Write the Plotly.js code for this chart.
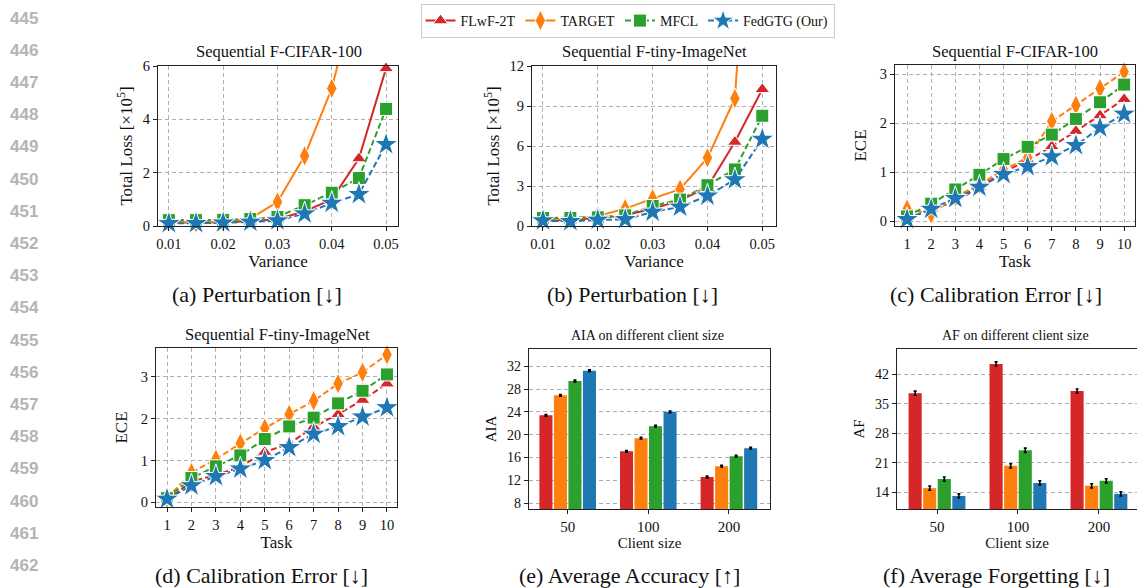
<!DOCTYPE html>
<html>
<head>
<meta charset="utf-8">
<script src="https://cdn.plot.ly/plotly-3.0.1.min.js"></script>
<style>html,body{margin:0;padding:0;background:#fff;}#chart{width:1137px;height:588px;}</style>
</head>
<body>
<div id="chart"></div>
<script>
// ---------- data ----------
const seriesNames = ['FLwF-2T', 'TARGET', 'MFCL', 'FedGTG (Our)'];
const variance = [0.01, 0.015, 0.02, 0.025, 0.03, 0.035, 0.04, 0.045, 0.05];
const tasks = [1, 2, 3, 4, 5, 6, 7, 8, 9, 10];
const clientSizes = ['50', '100', '200'];

// (a) Perturbation, Sequential F-CIFAR-100 (Total Loss x1e5)
const aFLwF   = [0.15, 0.12, 0.15, 0.18, 0.25, 0.55, 1.00, 2.53, 5.91];
const aTARGET = [0.15, 0.12, 0.15, 0.28, 0.90, 2.63, 5.16, 9.20, 16.0];
const aMFCL   = [0.22, 0.22, 0.23, 0.26, 0.34, 0.78, 1.25, 1.80, 4.39];
const aFedGTG = [0.10, 0.10, 0.12, 0.15, 0.20, 0.46, 0.86, 1.19, 3.06];

// (b) Perturbation, Sequential F-tiny-ImageNet
const bFLwF   = [0.40, 0.45, 0.60, 0.80, 1.30, 1.90, 2.93, 6.30, 10.25];
const bTARGET = [0.50, 0.55, 0.75, 1.30, 2.05, 2.76, 5.11, 9.57, 40.0];
const bMFCL   = [0.60, 0.60, 0.65, 0.80, 1.50, 1.98, 3.06, 4.24, 8.27];
const bFedGTG = [0.40, 0.35, 0.45, 0.50, 1.05, 1.43, 2.26, 3.48, 6.52];

// (c) Calibration Error, Sequential F-CIFAR-100 (ECE)
const cFLwF   = [0.05, 0.25, 0.40, 0.70, 1.00, 1.25, 1.53, 1.84, 2.16, 2.49];
const cTARGET = [0.25, 0.15, 0.50, 0.75, 1.05, 1.30, 2.04, 2.37, 2.71, 3.05];
const cMFCL   = [0.10, 0.36, 0.65, 0.95, 1.27, 1.52, 1.77, 2.09, 2.43, 2.79];
const cFedGTG = [0.04, 0.25, 0.47, 0.70, 0.96, 1.12, 1.32, 1.55, 1.91, 2.19];

// (d) Calibration Error, Sequential F-tiny-ImageNet (ECE)
const dFLwF   = [0.05, 0.50, 0.65, 0.85, 1.20, 1.40, 1.80, 2.10, 2.44, 2.83];
const dTARGET = [0.10, 0.71, 1.03, 1.41, 1.77, 2.10, 2.42, 2.83, 3.10, 3.52];
const dMFCL   = [0.10, 0.58, 0.86, 1.12, 1.51, 1.81, 2.02, 2.36, 2.66, 3.05];
const dFedGTG = [0.08, 0.40, 0.62, 0.80, 1.00, 1.31, 1.63, 1.81, 2.04, 2.26];

// (e) AIA on different client size
const eFLwF   = [23.4, 17.1, 12.6];
const eTARGET = [26.9, 19.4, 14.5];
const eMFCL   = [29.4, 21.5, 16.25];
const eFedGTG = [31.2, 24.0, 17.65];
const eErr    = [0.15, 0.15, 0.15];

// (f) AF on different client size
const fFLwF   = [37.5, 44.45, 38.0];
const fTARGET = [14.95, 20.25, 15.5];
const fMFCL   = [17.1, 23.96, 16.7];
const fFedGTG = [13.1, 16.2, 13.6];
const fErr    = [0.5, 0.5, 0.5];

const lineNumbers = ['445','446','447','448','449','450','451','452','453','454','455','456','457','458','459','460','461','462','463'];

// ---------- styles ----------
const colors = ['#d62728', '#ff7f0e', '#2ca02c', '#1f77b4'];
const symbols = ['triangle-up', 'diamond-tall', 'square', 'star'];
const msizes = [13, 15, 13, 18];
const SERIF = 'Liberation Serif, Times New Roman, serif';
const W = 1137, H = 588;
const px = v => v / W;
const py = v => 1 - v / H;

const traces = [];
function addLines(xs, ys, idx, dashes, showLegend) {
  const ax = idx === 1 ? '' : String(idx);
  ys.forEach((y, i) => {
    traces.push({
      type: 'scatter', mode: 'lines+markers', x: xs, y: y,
      name: seriesNames[i], legendgroup: seriesNames[i], showlegend: showLegend,
      xaxis: 'x' + ax, yaxis: 'y' + ax, cliponaxis: false,
      line: {color: colors[i], width: 2, dash: dashes[i]},
      marker: {symbol: symbols[i], size: msizes[i], color: colors[i], line: {color: '#ffffff', width: 1}}
    });
  });
}
function addBars(cats, ys, err, idx) {
  const ax = String(idx);
  ys.forEach((y, i) => {
    traces.push({
      type: 'bar', x: cats, y: y, name: seriesNames[i], legendgroup: seriesNames[i], showlegend: false,
      xaxis: 'x' + ax, yaxis: 'y' + ax,
      marker: {color: colors[i], line: {width: 0}},
      error_y: {type: 'data', array: err, visible: true, color: '#000', thickness: 1.6, width: 1.5}
    });
  });
}

addLines(variance, [aFLwF, aTARGET, aMFCL, aFedGTG], 1, ['solid', 'solid', '6px,3px', '6px,3px'], true);
addLines(variance, [bFLwF, bTARGET, bMFCL, bFedGTG], 2, ['solid', 'solid', '6px,3px', '6px,3px'], false);
addLines(tasks, [cFLwF, cTARGET, cMFCL, cFedGTG], 3, ['6px,3px', '6px,3px', '6px,3px', '6px,3px'], false);
addLines(tasks, [dFLwF, dTARGET, dMFCL, dFedGTG], 4, ['6px,3px', '6px,3px', '6px,3px', '6px,3px'], false);
addBars(clientSizes, [eFLwF, eTARGET, eMFCL, eFedGTG], eErr, 5);
addBars(clientSizes, [fFLwF, fTARGET, fMFCL, fFedGTG], fErr, 6);

// ---------- layout ----------
const TICK = 14.5;
const gridStyle = {showgrid: true, gridcolor: '#b0b0b0', griddash: '4px,3px', gridwidth: 1};
function xAx(dom, range, extra) {
  return Object.assign({
    domain: [px(dom[0]), px(dom[1])], range: range, showline: true, linecolor: '#222', linewidth: 1.2,
    mirror: true, ticks: 'outside', ticklen: 4, tickcolor: '#222', zeroline: false,
    tickfont: {family: SERIF, size: TICK, color: '#111'}
  }, gridStyle, extra);
}
function yAx(dom, range, extra) {
  return Object.assign({
    domain: [py(dom[1]), py(dom[0])], range: range, showline: true, linecolor: '#222', linewidth: 1.2,
    mirror: true, ticks: 'outside', ticklen: 4, tickcolor: '#222', zeroline: false,
    tickfont: {family: SERIF, size: TICK, color: '#111'}
  }, gridStyle, extra);
}
const tl = (text, size, standoff) => ({text: text, font: {family: SERIF, size: size, color: '#111'}, standoff: standoff});

const layout = {
  width: W, height: H, margin: {l: 0, r: 0, t: 0, b: 0},
  paper_bgcolor: '#fff', plot_bgcolor: '#fff', showlegend: true,
  barmode: 'group', bargap: 0.28, bargroupgap: 0.1,
  font: {family: SERIF, color: '#111'},
  legend: {orientation: 'h', x: px(627.5), xanchor: 'center', y: py(4), yanchor: 'top',
    bordercolor: '#cccccc', borderwidth: 1, bgcolor: '#fff',
    font: {family: SERIF, size: 14, color: '#111'}, itemwidth: 30, tracegroupgap: 0},
  // (a)
  xaxis: xAx([158, 398], [0.008, 0.0522], {anchor: 'y', tickvals: [0.01, 0.02, 0.03, 0.04, 0.05], ticktext: ['0.01','0.02','0.03','0.04','0.05'], title: tl('Variance', 17, 3)}),
  yaxis: yAx([66, 226], [0, 6], {anchor: 'x', tickvals: [0, 2, 4, 6], title: tl('Total Loss [×10<sup>5</sup>]', 17, 5)}),
  // (b)
  xaxis2: xAx([532, 776], [0.008, 0.0525], {anchor: 'y2', tickvals: [0.01, 0.02, 0.03, 0.04, 0.05], ticktext: ['0.01','0.02','0.03','0.04','0.05'], title: tl('Variance', 17, 3)}),
  yaxis2: yAx([66, 226], [0, 12], {anchor: 'x2', tickvals: [0, 3, 6, 9, 12], title: tl('Total Loss [×10<sup>5</sup>]', 17, 5)}),
  // (c)
  xaxis3: xAx([895, 1135], [0.5, 10.45], {anchor: 'y3', tickvals: tasks, title: tl('Task', 17, 3)}),
  yaxis3: yAx([65, 226], [-0.095, 3.19], {anchor: 'x3', tickvals: [0, 1, 2, 3], title: tl('ECE', 17, 8)}),
  // (d)
  xaxis4: xAx([156, 397], [0.55, 10.41], {anchor: 'y4', tickvals: tasks, title: tl('Task', 17, 3)}),
  yaxis4: yAx([348, 507], [-0.11, 3.68], {anchor: 'x4', tickvals: [0, 1, 2, 3], title: tl('ECE', 17, 8)}),
  // (e)
  xaxis5: xAx([529, 770], [-0.48, 2.51], {anchor: 'y5', type: 'category', showgrid: false, tickfont: {family: SERIF, size: 15, color: '#111'}, title: tl('Client size', 15, 3)}),
  yaxis5: yAx([349, 509], [7, 35], {anchor: 'x5', tickvals: [8, 12, 16, 20, 24, 28, 32], tickfont: {family: SERIF, size: 14, color: '#111'}, title: tl('AIA', 15, 6)}),
  // (f)
  xaxis6: xAx([897, 1137], [-0.494, 2.47], {anchor: 'y6', type: 'category', showgrid: false, tickfont: {family: SERIF, size: 15, color: '#111'}, title: tl('Client size', 15, 3)}),
  yaxis6: yAx([349, 509], [10, 48], {anchor: 'x6', mirror: false, tickvals: [14, 21, 28, 35, 42], tickfont: {family: SERIF, size: 14, color: '#111'}, title: tl('AF', 15, 6)}),
  annotations: []
};

// subplot titles
const subTitles = [
  ['Sequential F-CIFAR-100', 279, 52, 16.5],
  ['Sequential F-tiny-ImageNet', 654, 52, 16.5],
  ['Sequential F-CIFAR-100', 1015, 52, 16.5],
  ['Sequential F-tiny-ImageNet', 277, 334, 16.5],
  ['AIA on different client size', 647, 335, 14],
  ['AF on different client size', 1015, 335, 14]
];
subTitles.forEach(t => layout.annotations.push({text: t[0], xref: 'paper', yref: 'paper', x: px(t[1]), y: py(t[2]),
  xanchor: 'center', yanchor: 'middle', showarrow: false, font: {family: SERIF, size: t[3], color: '#111'}}));

// captions
const captions = [
  ['(a) Perturbation [↓]', 257, 295], ['(b) Perturbation [↓]', 632, 295], ['(c) Calibration Error [↓]', 996, 295],
  ['(d) Calibration Error [↓]', 261, 575], ['(e) Average Accuracy [↑]', 629, 575], ['(f) Average Forgetting [↓]', 996, 575]
];
captions.forEach(c => layout.annotations.push({text: c[0], xref: 'paper', yref: 'paper', x: px(c[1]), y: py(c[2]),
  xanchor: 'center', yanchor: 'middle', showarrow: false, font: {family: SERIF, size: 22, color: '#111'}}));

// line numbers
lineNumbers.forEach((n, i) => layout.annotations.push({text: '<b>' + n + '</b>', xref: 'paper', yref: 'paper',
  x: px(24), y: py(18 + i * 32.2), xanchor: 'center', yanchor: 'middle', showarrow: false,
  font: {family: 'Liberation Sans, Arial, sans-serif', size: 17, color: '#b4b4b4'}}));

Plotly.newPlot('chart', traces, layout, {displayModeBar: false, staticPlot: true});
</script>
</body>
</html>
